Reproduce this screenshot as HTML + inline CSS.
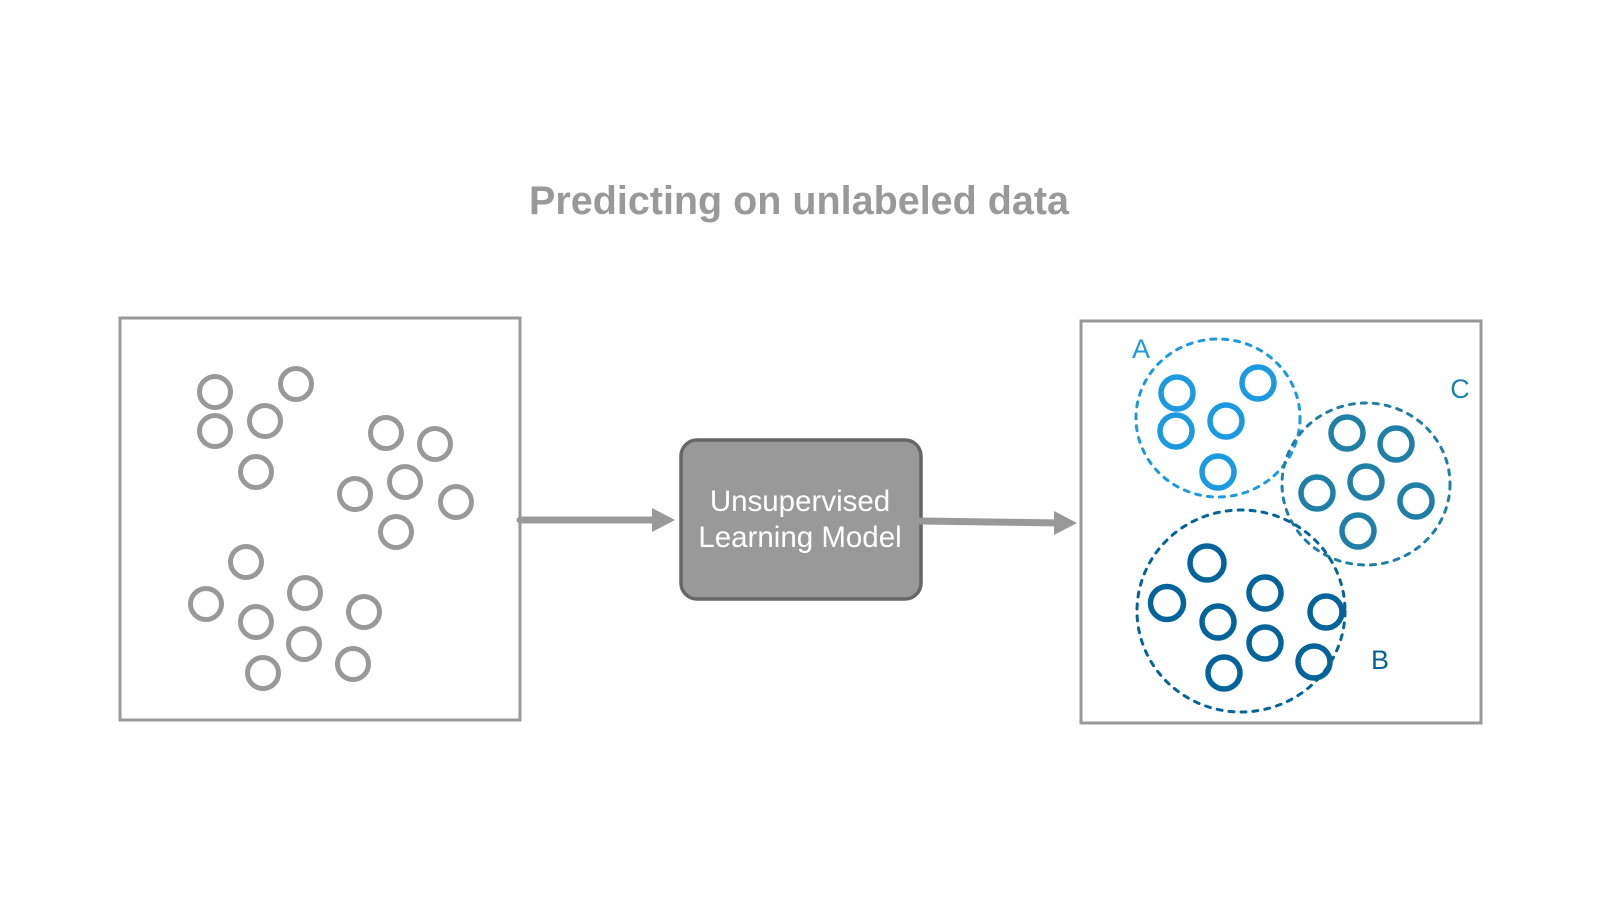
<!DOCTYPE html>
<html><head><style>
body{margin:0;background:#fff;width:1600px;height:900px;overflow:hidden}
text{font-family:"Liberation Sans",Arial,sans-serif}
</style></head><body>
<svg width="1600" height="900" viewBox="0 0 1600 900">
<text x="799" y="214" text-anchor="middle" font-size="39.5" font-weight="bold" fill="#999">Predicting on unlabeled data</text>
<rect x="120" y="318" width="400" height="402" fill="none" stroke="#999" stroke-width="3"/>
<g fill="none" stroke="#999" stroke-width="5">
<circle cx="215" cy="392" r="15.5"/><circle cx="296" cy="384" r="15.5"/><circle cx="215" cy="431" r="15.5"/><circle cx="265" cy="421" r="15.5"/><circle cx="256" cy="472" r="15.5"/><circle cx="386" cy="433" r="15.5"/><circle cx="435" cy="444" r="15.5"/><circle cx="355" cy="494" r="15.5"/><circle cx="405" cy="482" r="15.5"/><circle cx="456" cy="502" r="15.5"/><circle cx="396" cy="532" r="15.5"/><circle cx="246" cy="562" r="15.5"/><circle cx="206" cy="604" r="15.5"/><circle cx="305" cy="593" r="15.5"/><circle cx="256" cy="622" r="15.5"/><circle cx="364" cy="612" r="15.5"/><circle cx="304" cy="644" r="15.5"/><circle cx="263" cy="673" r="15.5"/><circle cx="353" cy="664" r="15.5"/>
</g>
<rect x="681" y="440" width="240" height="159" rx="16" fill="#999" stroke="#666" stroke-width="3.5"/>
<text x="800" y="511" text-anchor="middle" font-size="29.5" fill="#fff">Unsupervised</text>
<text x="800" y="547" text-anchor="middle" font-size="29.5" fill="#fff">Learning Model</text>
<g stroke="#999" stroke-width="7" stroke-linecap="round"><line x1="520" y1="520" x2="660" y2="520"/><line x1="921" y1="521" x2="1062" y2="523"/></g>
<polygon points="652,508 675,520 652,532" fill="#999"/>
<polygon points="1054,511 1077,523 1054,535" fill="#999"/>
<rect x="1081" y="321" width="400" height="402" fill="none" stroke="#999" stroke-width="3"/>
<g fill="none" stroke-width="3" stroke-dasharray="5 7" stroke-linecap="round">
<ellipse cx="1218" cy="418" rx="82" ry="79" stroke="#1b9ae0"/>
<ellipse cx="1366" cy="484" rx="84" ry="81" stroke="#1f7fa6"/>
<ellipse cx="1241" cy="611" rx="104" ry="101" stroke="#02649a"/>
</g>
<g fill="none" stroke-width="5.5">
<g stroke="#1b9ae0"><circle cx="1177" cy="393" r="16"/><circle cx="1258" cy="383" r="16"/><circle cx="1176" cy="431" r="16"/><circle cx="1226" cy="421" r="16"/><circle cx="1218" cy="472" r="16"/></g>
<g stroke="#1f7fa6"><circle cx="1347" cy="433" r="16"/><circle cx="1396" cy="444" r="16"/><circle cx="1317" cy="493" r="16"/><circle cx="1366" cy="482" r="16"/><circle cx="1416" cy="501" r="16"/><circle cx="1358" cy="531" r="16"/></g>
<g stroke="#02649a"><circle cx="1207" cy="563" r="17"/><circle cx="1167" cy="603" r="16.5"/><circle cx="1265" cy="593" r="16"/><circle cx="1218" cy="622" r="16"/><circle cx="1326" cy="612" r="16"/><circle cx="1265" cy="643" r="16"/><circle cx="1314" cy="662" r="16"/><circle cx="1224" cy="673" r="16"/></g>
</g>
<text x="1141" y="358" text-anchor="middle" font-size="27" fill="#1b9ae0">A</text>
<text x="1460" y="398" text-anchor="middle" font-size="27" fill="#1f7fa6">C</text>
<text x="1380" y="669" text-anchor="middle" font-size="27" fill="#02649a">B</text>
</svg>
</body></html>
